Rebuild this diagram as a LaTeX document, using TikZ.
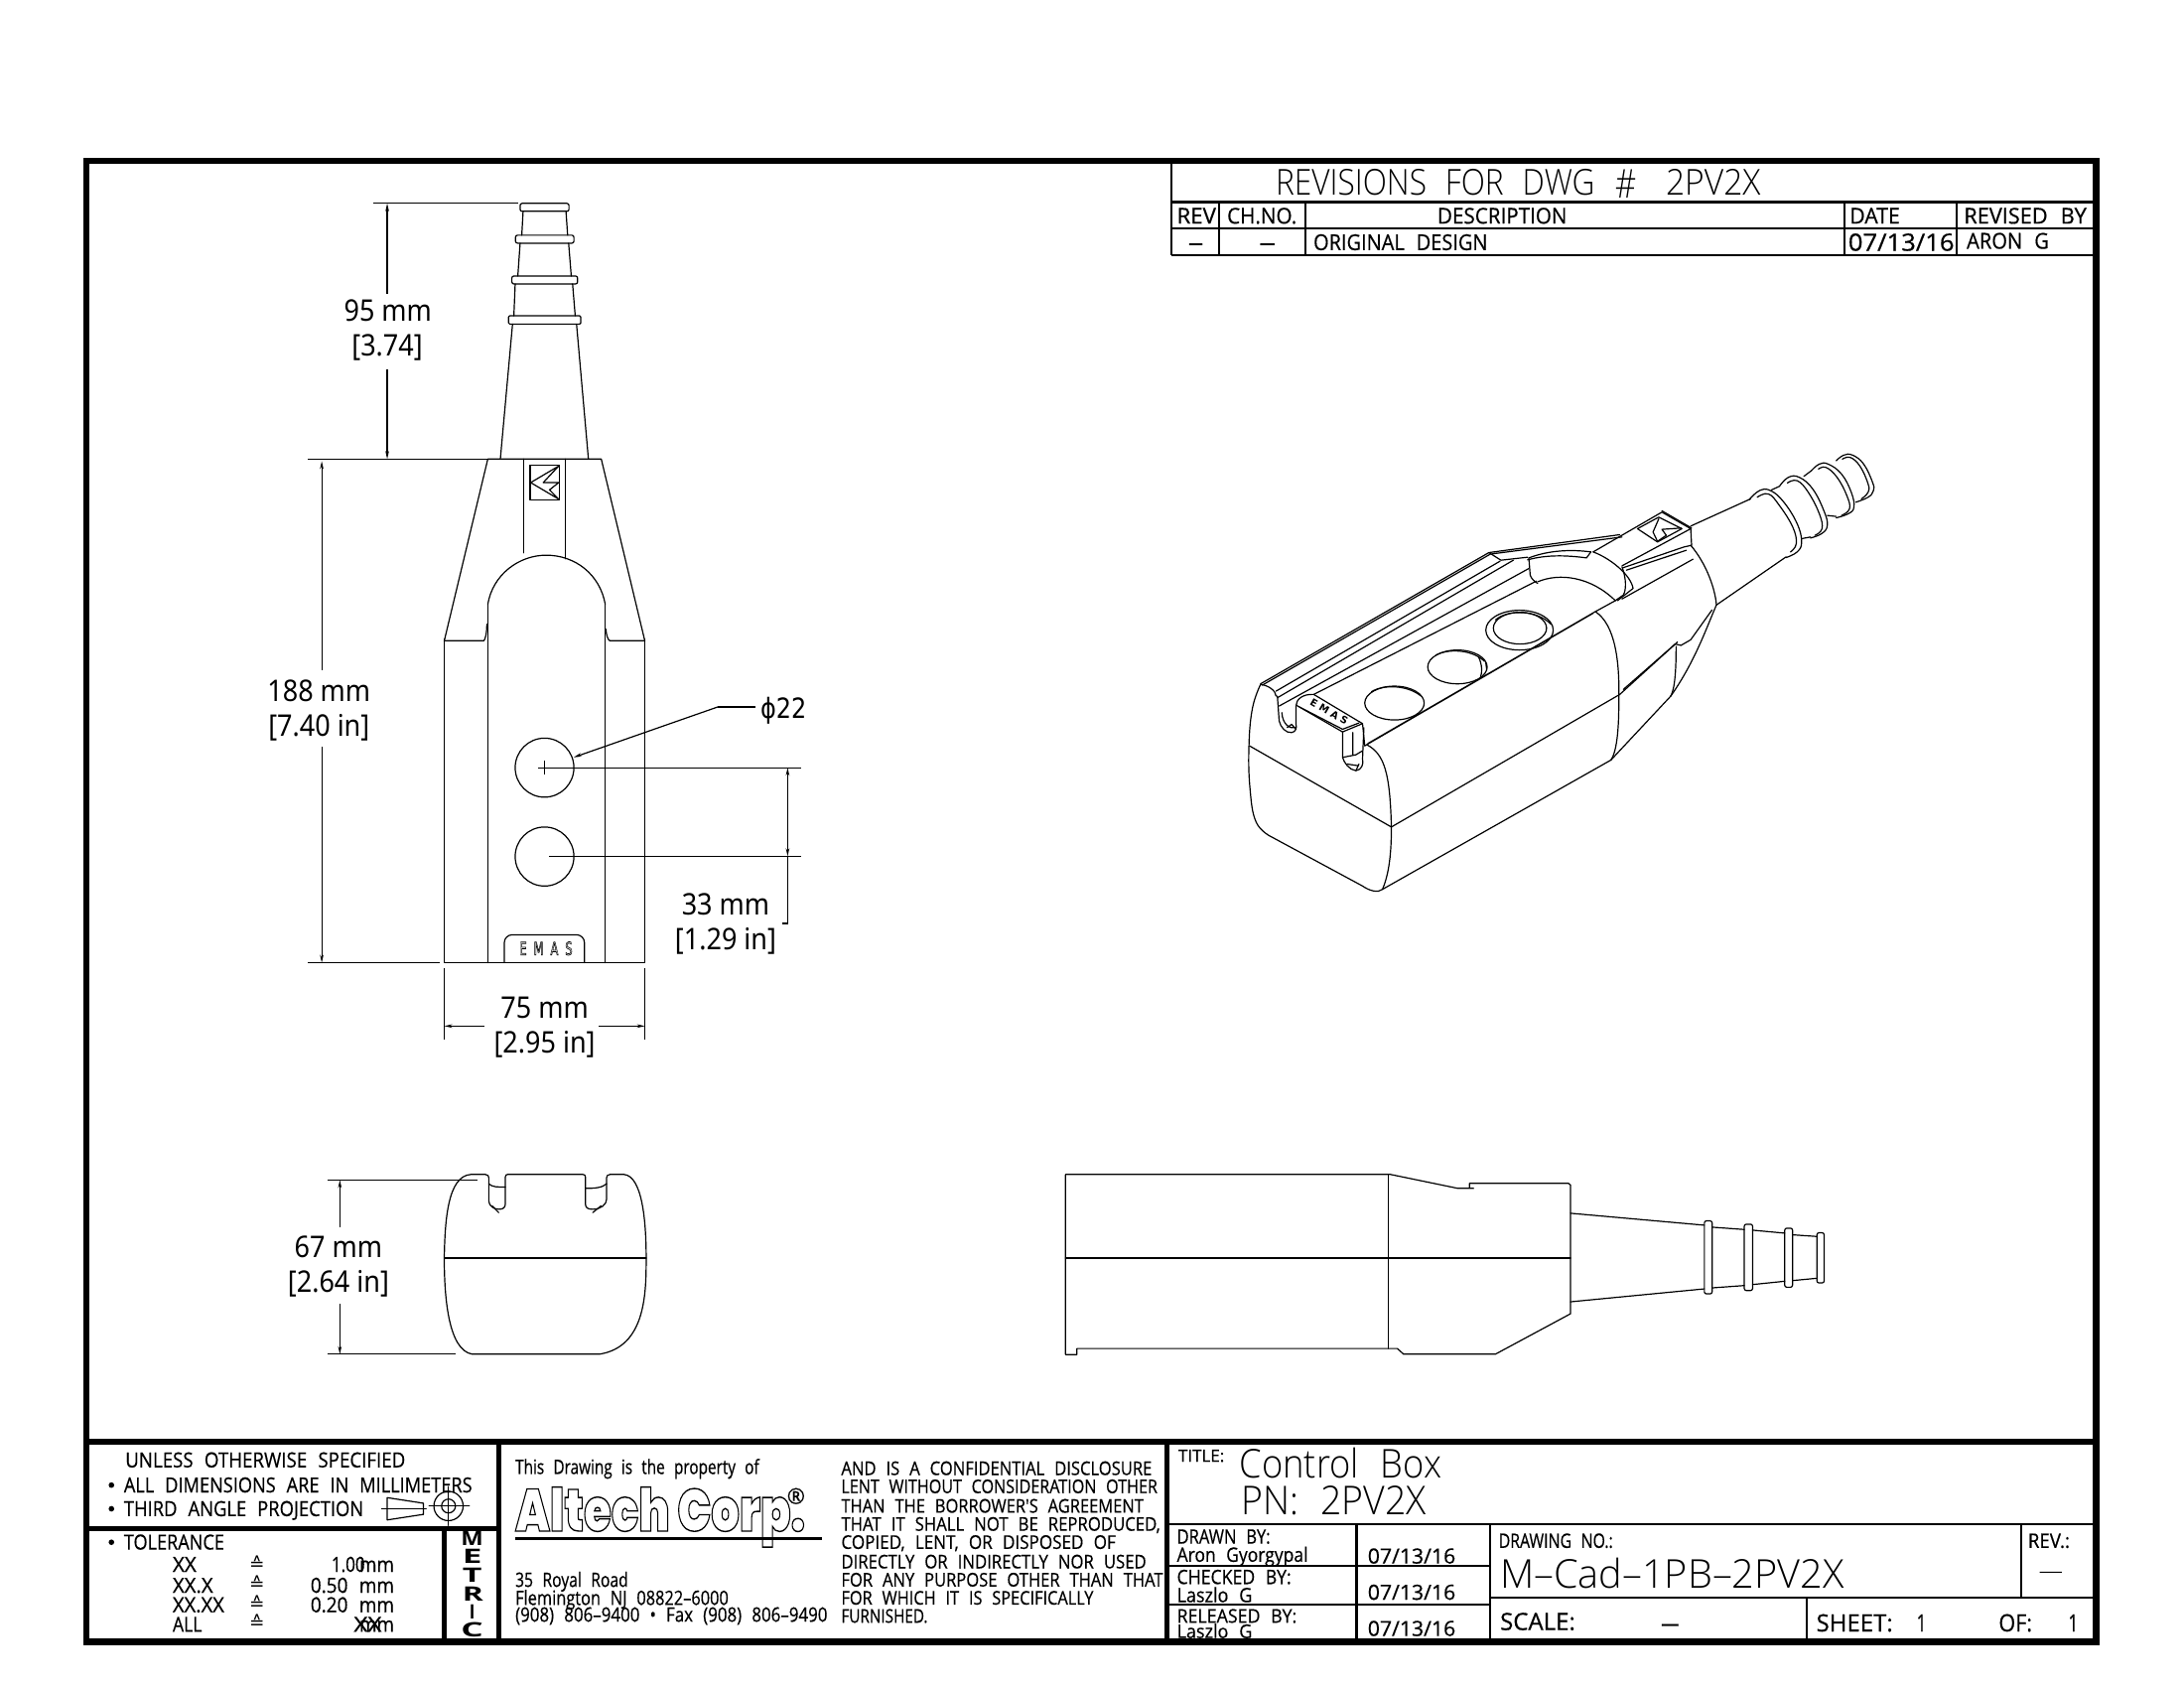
\documentclass[tikz,border=0pt]{standalone}
\usepackage{fontspec}
\usepackage{graphicx}
\usetikzlibrary{arrows.meta}
\newfontfamily\cadfont{Open Sans}[FakeBold=0.5]
\newfontfamily\cadheavy{Open Sans}[UprightFont=* Bold]
\newfontfamily\cadlight{Open Sans}[UprightFont=* Light]
\newfontfamily\dimfont{Noto Sans}
\newfontfamily\dvfont{DejaVu Sans}
\newfontfamily\logofont{Poppins}[UprightFont=* Black]
\newsavebox\cadbox
\newcount\cadn
\newcommand{\cadt}[6][\cadfont]{%
  \global\advance\cadn by 1
  \pgfinterruptpicture\global\setbox\cadbox\hbox{#1\fontsize{#5}{#5}\selectfont\spaceskip=.6em\relax #6}\endpgfinterruptpicture
  \pgfmathsetmacro\cadsx{(#3-#2)*0.70153/\the\wd\cadbox}%
  \node[cadlabel] (cad\the\cadn) at (#2,#4+#5/2) {\scalebox{\cadsx}[1]{\usebox\cadbox}};}
\newcommand{\dimlabel}[3]{%
  \global\advance\cadn by 1
  \node[dimlabelstyle] (cad\the\cadn) at (#1,#2+7.6) {\scalebox{.9}[1]{#3}};}
\newcommand{\outlined}[2]{\special{pdf:code 1 Tr #1 w}#2\special{pdf:code 0 Tr}}
\tikzset{
  cadlabel/.style={anchor=base west,inner sep=0pt,outer sep=0pt},
  dimlabelstyle/.style={anchor=base,inner sep=0pt,font=\dimfont\fontsize{15}{15}\selectfont},
  cadline/.style={line width=.6pt,line cap=round,line join=round},
  frameline/.style={line width=3.2pt,line cap=rect},
  heavyline/.style={line width=2.6pt},
  cellline/.style={line width=1.1pt},
  dimline/.style={line width=.6pt},
  dimarrow/.style={line width=.6pt,{Stealth[length=4pt,width=1.8pt]}-{Stealth[length=4pt,width=1.8pt]}},
  isoview/.style={shift={(882.7,312.9)},xscale=.3184,yscale=.2379},
  sideview/.style={shift={(756.4,833.5)},xscale=.3723,yscale=.238},
  endview/.style={shift={(300,833.5)},xscale=.2369,yscale=.238},
  fronttop/.style={shift={(285.1,127.9)},xscale=.2368,yscale=.238},
  frontlow/.style={shift={(285.1,455.1)},xscale=.2368,yscale=.238},
}
\begin{document}
\begin{tikzpicture}[x=0.70153pt,y=-0.70153pt]
\useasboundingbox (0,0) rectangle (1568,1211.6);
\fill[white] (0,0) rectangle (1568,1211.6);

% ---------- front view
\begin{scope}[fronttop]
\draw[cadline,rounded corners=1pt] (373,76) rectangle (521,100);
\draw[cadline,rounded corners=1pt] (359,172) rectangle (536,196);
\draw[cadline,rounded corners=1pt] (348,295) rectangle (547,319);
\draw[cadline,rounded corners=.6pt] (338,415) rectangle (557,440);
\draw[cadline] (382,100)--(378,172) (373,196)--(366,295) (358,319)--(354,415) (350,440)--(313,847);
\draw[cadline] (512,100)--(517,172) (520,196)--(528,295) (532,319)--(540,415) (544,440)--(580,847);
\draw[cadline] (143,1395)--(275,847)--(619,847)--(751,1395);
\draw[cadline] (143,1395)--(263,1395)..controls (268,1390) and (272,1370)..(272,1345);
\draw[cadline] (751,1395)--(645,1395)..controls (638,1392) and (634,1375)..(633,1360);
\draw[cadline] (383,847)--(383,1130) (511,847)--(511,1148);
\draw[cadline] (275,1285)..controls (290,1195) and (370,1137)..(452,1137)..controls (540,1137) and (615,1195)..(631,1285);
\draw[cadline] (403,865) rectangle (491,970);
\draw[cadline] (490,868)--(405,918)--(490,968) (490,868)--(443,918)--(490,918)--(462,940)--(490,968);
\end{scope}
\begin{scope}[frontlow]
\draw[cadline] (143,15)--(143,991)--(751,991)--(751,15);
\draw[cadline] (275,-90)--(275,991) (631,-90)--(631,991);
\draw[cadline] (447,403) ellipse [x radius=89,y radius=89];
\draw[cadline] (447,671) ellipse [x radius=89,y radius=89];
\draw[dimline] (427,403)--(1224,403) (447,383)--(447,423) (460,670)--(1224,670);
\draw[dimline,-{Stealth[length=4pt,width=1.8pt]}] (972,220)--(535,372);
\draw[dimline] (972,220)--(1085,220);
\draw[dimarrow] (1184,403)--(1184,670);
\draw[dimline] (1184,670)--(1184,873)--(1168,873);
\draw[cadline,rounded corners=4pt] (325,991)--(325,907)--(568,907)--(568,991);
\end{scope}
\cadt[\dvfont]{373}{411}{681}{9}{\outlined{.35}{E M A S}}
\cadt[\dvfont]{546}{579}{509}{14}{ϕ22}

% dimensions, front view
\draw[dimline] (268,146)--(372,146);
\draw[dimline] (221,329.5)--(360,329.5);
\draw[dimline] (221,691)--(316,691);
\draw[dimline,{Stealth[length=4pt,width=1.8pt]}-] (278,146)--(278,211);
\draw[dimline,-{Stealth[length=4pt,width=1.8pt]}] (278,265)--(278,329.5);
\draw[dimline,{Stealth[length=4pt,width=1.8pt]}-] (231,331)--(231,481);
\draw[dimline,-{Stealth[length=4pt,width=1.8pt]}] (231,536)--(231,691);
\draw[dimline] (319,695)--(319,746) (463,695)--(463,746);
\draw[dimline,{Stealth[length=4pt,width=1.8pt]}-] (319,736.5)--(348,736.5);
\draw[dimline,-{Stealth[length=4pt,width=1.8pt]}] (430,736.5)--(463,736.5);
\dimlabel{278.5}{223}{95 mm}
\dimlabel{278}{248}{[3.74]}
\dimlabel{229}{496}{188 mm}
\dimlabel{229}{521}{[7.40 in]}
\dimlabel{521}{649}{33 mm}
\dimlabel{521}{674}{[1.29 in]}
\dimlabel{391}{723}{75 mm}
\dimlabel{391}{748}{[2.95 in]}

% ---------- end view
\begin{scope}[endview]
\draw[cadline] (80,292)..controls (82,180) and (90,45)..(160,40)--(205,40)..controls (212,40) and (215,45)..(215,50)--(215,120)..controls (215,135) and (232,145)..(245,145)..controls (258,145) and (265,140)..(265,130)--(265,48)..controls (265,42) and (268,40)..(272,40)--(500,40)..controls (505,40) and (508,42)..(508,48)--(508,130)..controls (508,140) and (515,145)..(530,145)..controls (555,145) and (572,130)..(572,115)--(572,50)..controls (572,45) and (575,40)..(582,40)--(625,40)..controls (680,45) and (692,180)..(692,292)..controls (692,400) and (690,560)..(550,582)--(165,582)..controls (90,570) and (80,400)..(80,292)--cycle;
\draw[cadline] (80,292)--(692,292);
\draw[cadline] (215,68)..controls (225,78) and (240,78)..(265,78);
\draw[cadline] (508,82)..controls (535,82) and (560,80)..(572,68);
\draw[cadline] (225,135)--(245,155) (530,155)--(555,135);
\draw[cadline] (312,38)--(465,38);
\end{scope}
\draw[dimline] (235,847)--(343,847) (235,972)--(327,972);
\draw[dimline,{Stealth[length=4pt,width=1.8pt]}-] (244,847)--(244,881);
\draw[dimline,-{Stealth[length=4pt,width=1.8pt]}] (244,936)--(244,972);
\dimlabel{243}{895}{67 mm}
\dimlabel{243}{920}{[2.64 in]}

% ---------- side view
\begin{scope}[sideview]
\draw[cadline] (810,82)--(780,82)--(650,40)--(23,40)--(23,583)--(45,583)--(45,565)--(663,565)--(675,582)--(852,582)--(997,460)--(997,72)--(993,67)--(802,67)--(802,82);
\draw[cadline] (645,40)--(645,565) (23,292)--(997,292) (43,38)--(65,38);
\draw[cadline] (997,157)--(1255,193) (1270,199)--(1332,206) (1348,208)--(1410,217) (1425,222)--(1472,227);
\draw[cadline] (997,424)--(1255,385) (1270,382)--(1332,375) (1348,372)--(1410,362) (1425,360)--(1472,353);
\draw[cadline,rounded corners=1pt] (1255,180) rectangle (1270,400);
\draw[cadline,rounded corners=1pt] (1332,190) rectangle (1348,390);
\draw[cadline,rounded corners=1pt] (1410,202) rectangle (1425,380);
\draw[cadline,rounded corners=1pt] (1472,216) rectangle (1486,367);
\end{scope}

% ---------- isometric view
\begin{scope}[isoview]
\draw[cadline] plot[smooth,tension=.7] coordinates {(70,750)(52,820)(44,930)(46,1060)(60,1165)(95,1210)};
\draw[cadline] (95,1210)--(300,1358)..controls (315,1372) and (335,1380)..(345,1368)--(860,978);
\draw[cadline] (45,935)--(365,1180)--(880,780);
\draw[cadline] (310,932)..controls (350,960) and (362,1020)..(365,1180)..controls (365,1260) and (360,1320)..(345,1368);
\draw[cadline] (825,530)..controls (870,570) and (880,680)..(878,800)..controls (878,870) and (875,950)..(860,978);
\draw[cadline] (305,935)--(820,535) (312,928)--(825,530)--(870,497);
\draw[cadline] (885,492)--(1045,372);
\draw[cadline] (1040,330)..controls (1075,385) and (1095,460)..(1098,510);
\draw[cadline] (1098,510)--(1255,365) (1040,272)--(1175,190);
\draw[cadline] (860,978)--(995,785);
\draw[cadline] (995,785)..controls (1005,760) and (1007,700)..(1007,635);
\draw[cadline] (995,785)..controls (1050,680) and (1075,580)..(1098,510);
\draw[cadline] (880,780)--(1010,622);
\draw[cadline] (888,765)--(1005,628)--(1018,632)--(1040,615)--(1088,525);
% top edges
\draw[cadline] (70,748)--(585,352) (74,752)--(589,356);
\draw[cadline] (70,750)..controls (88,752) and (105,770)..(105,785);
\draw[cadline] (105,770)--(610,378) (108,790)--(640,375) (112,815)--(675,400) (190,780)--(692,438);
\draw[cadline] (585,352)--(880,298) (592,356)--(885,305);
\draw[cadline] (585,352)--(612,375)--(672,366);
% recess
\draw[cadline] (675,368)..controls (720,345) and (770,342)..(815,350);
\draw[cadline] (672,374)..controls (715,358) and (760,360)..(805,368)--(815,350);
\draw[cadline] (675,368)--(678,420)..controls (680,430) and (688,440)..(695,445);
\draw[cadline] (695,440)..controls (745,412) and (815,425)..(870,497);
\draw[cadline] (820,350)..controls (860,370) and (905,420)..(910,460)--(875,497);
\draw[cadline] (885,395)..controls (895,430) and (895,465)..(888,480)--(870,497);
% logo block
\draw[cadline] (820,350)--(975,230)--(1040,280)--(885,392);
\draw[cadline] (975,226)--(1042,278);
\draw[cadline] (1040,280)--(1042,330)--(1025,335)--(887,398);
\draw[cadline] (1030,345)--(895,405);
\draw[cadline] (920,280)--(968,245)--(1020,280)--(965,320)--cycle;
\draw[cadline] (1018,278)--(975,282)--(985,300)--(965,318) (968,250)--(955,290)--(965,318);
% holes
\draw[cadline] (372,806) ellipse [x radius=67,y radius=51];
\draw[cadline] (320,772)..controls (345,750) and (400,750)..(432,785);
\draw[cadline] (514,697) ellipse [x radius=67,y radius=51];
\draw[cadline] (465,662)..controls (490,642) and (545,642)..(575,680);
\draw[cadline] (562,668)..controls (570,690) and (570,715)..(566,728) (578,685)--(580,705);
\draw[cadline] (654,586) ellipse [x radius=76,y radius=60];
\draw[cadline] (655,580) ellipse [x radius=60,y radius=48];
\draw[cadline] (600,555)..controls (625,525) and (690,522)..(725,568);
% left notch and plate
\draw[cadline] (108,785)--(112,860)..controls (115,880) and (128,897)..(140,895)..controls (150,893) and (152,880)..(150,870)--(150,815)..controls (150,795) and (165,778)..(190,780);
\draw[cadline] (118,835)..controls (120,870) and (135,885)..(150,880) (130,880)--(140,870)--(150,885);
\draw[cadline] (150,812)--(255,893)--(300,868)--(190,780);
\draw[cadline] (158,818)--(255,885)--(292,866);
\draw[cadline] (300,868)--(305,935);
% right notch
\draw[cadline] (255,893)--(255,970)..controls (258,985) and (270,1008)..(285,1010)..controls (298,1008) and (303,990)..(300,975)--(303,880);
\draw[cadline] (255,970)--(285,962)--(300,950) (278,895)--(278,962);
\draw[cadline] (265,990)--(290,995) (285,1010)--(292,990);
% collars
\draw[cadline] plot[smooth,tension=.7] coordinates {(1172,192)(1195,165)(1220,165)(1250,200)(1280,265)(1290,320)(1280,350)(1255,367)};
\draw[cadline] plot[smooth,tension=.7] coordinates {(1190,185)(1215,175)(1240,210)(1270,275)(1278,325)(1265,350)};
\draw[cadline] plot[smooth,tension=.7] coordinates {(1240,152)(1260,125)(1285,125)(1315,160)(1340,225)(1348,270)(1335,295)(1310,308)};
\draw[cadline] plot[smooth,tension=.7] coordinates {(1258,142)(1280,135)(1305,170)(1330,235)(1336,280)(1320,300)};
\draw[cadline] plot[smooth,tension=.7] coordinates {(1312,105)(1330,85)(1350,85)(1380,115)(1402,170)(1408,215)(1395,235)(1368,247)};
\draw[cadline] plot[smooth,tension=.7] coordinates {(1328,100)(1345,95)(1370,125)(1392,180)(1398,220)(1380,240)};
\draw[cadline] plot[smooth,tension=.7] coordinates {(1368,75)(1385,58)(1405,58)(1430,85)(1450,140)(1452,165)(1440,185)(1412,200)};
\draw[cadline] plot[smooth,tension=.7] coordinates {(1382,70)(1400,65)(1422,92)(1440,145)(1440,170)(1425,190)};
\draw[cadline] (1222,163)--(1240,152) (1290,310)--(1310,305) (1295,122)--(1312,105) (1348,240)--(1368,243);
\global\advance\cadn by 1
\node[inner sep=0pt,rotate=-30] (cad\the\cadn) at (225,832) {\dvfont\bfseries\fontsize{5}{5}\selectfont E M A S};
\end{scope}

% ---------- frame
\draw[frameline] (62,115.5) rectangle (1505,1178.5);
\draw[frameline] (62,1035)--(1505,1035);
\draw[heavyline] (358,1035)--(358,1178) (838,1035)--(838,1178) (62,1097)--(358,1097) (319,1097)--(319,1178);

% ---------- revisions table
\draw[cellline] (841,116)--(841,183) (841,145)--(1504,145) (841,164)--(1504,164) (841,183)--(1504,183);
\draw[cellline] (875,145)--(875,183) (937,145)--(937,183) (1324,145)--(1324,183) (1405,145)--(1405,183);
\cadt[\cadlight]{916}{1145}{131}{18}{REVISIONS FOR DWG}
\cadt[\cadlight]{1160}{1175}{132}{20}{\#}
\cadt[\cadlight]{1196}{1264}{131}{18}{2PV2X}
\cadt{845}{873}{155}{11}{REV}
\cadt{881}{931}{155}{11}{CH.NO.}
\cadt{1032}{1125}{155}{11}{DESCRIPTION}
\cadt{1328}{1364}{155}{11}{DATE}
\cadt{1410}{1498}{155}{11}{REVISED BY}
\cadt{853}{864}{174}{11}{–}
\cadt{904}{916}{174}{11}{–}
\cadt{943}{1068}{174}{11}{ORIGINAL DESIGN}
\cadt{1327}{1403}{174}{12}{07/13/16}
\cadt{1412}{1471}{173}{11}{ARON G}

% ---------- left block
\cadt{90}{291}{1048}{10.5}{UNLESS OTHERWISE SPECIFIED}
\cadt{89}{339}{1066}{10.5}{ALL DIMENSIONS ARE IN MILLIMETERS}
\cadt{89}{261}{1083}{10.5}{THIRD ANGLE PROJECTION}
\cadt{89}{161}{1107}{10.5}{TOLERANCE}
\fill (80,1066) circle [radius=2] (80,1083) circle [radius=2] (80,1107) circle [radius=2];
\draw[cadline] (278,1075)--(304,1079)--(304,1087)--(278,1091)--cycle;
\draw[cadline] (274,1083)--(306,1083) (308,1081)--(337,1081) (322,1067)--(322,1095);
\draw[cadline] (322,1081) circle [radius=10.5];
\draw[cadline] (322,1081) circle [radius=5];
\cadt{124}{141}{1123}{10.5}{XX}
\cadt{124}{153}{1138}{10.5}{XX.X}
\cadt{124}{161}{1152}{10.5}{XX.XX}
\cadt{124}{145}{1166}{10.5}{ALL}
\cadt[\dvfont]{179}{190}{1123}{9}{≙}
\cadt[\dvfont]{179}{190}{1137}{9}{≙}
\cadt[\dvfont]{179}{190}{1151}{9}{≙}
\cadt[\dvfont]{179}{190}{1165}{9}{≙}
\cadt{238}{262}{1123}{10.5}{1.00}
\cadt{258}{283}{1123}{10.5}{mm}
\cadt{223}{283}{1138}{10.5}{0.50 mm}
\cadt{223}{283}{1152}{10.5}{0.20 mm}
\cadt{258}{283}{1166}{10.5}{mm}
\cadt{254}{274}{1166}{10.5}{XX}
\foreach \lt/\yy/\xa/\xb in {M/1104/331/347,E/1117/332/346,T/1131/332/346,R/1144/332/347,I/1157/337/341,C/1170/331/347}{
  \cadt[\cadheavy]{\xa}{\xb}{\yy}{10}{\lt}
}

% ---------- middle block
\cadt{370}{545}{1053}{10}{This Drawing is the property of}
\global\advance\cadn by 1
\pgfinterruptpicture\global\setbox\cadbox\hbox{\logofont\fontsize{30}{30}\selectfont\outlined{.7}{Altech Corp.}}\endpgfinterruptpicture
\pgfmathsetmacro\cadsx{208*0.70153/\the\wd\cadbox}
\node[cadlabel] (cad\the\cadn) at (370,1099) {\scalebox{\cadsx}[1]{\usebox\cadbox}};
\draw[line width=1.4pt] (370,1104.5)--(590,1104.5);
\cadt{565}{578}{1074}{11}{®}
\cadt{370}{451}{1134}{10}{35 Royal Road}
\cadt{370}{523}{1147}{10}{Flemington NJ 08822–6000}
\cadt{370}{594}{1159}{10}{(908) 806–9400 • Fax (908) 806–9490}
\cadt{604}{827}{1054}{9.5}{AND IS A CONFIDENTIAL DISCLOSURE}
\cadt{604}{831}{1067}{9.5}{LENT WITHOUT CONSIDERATION OTHER}
\cadt{604}{821}{1081}{9.5}{THAN THE BORROWER'S AGREEMENT}
\cadt{604}{833}{1094}{9.5}{THAT IT SHALL NOT BE REPRODUCED,}
\cadt{604}{801}{1107}{9.5}{COPIED, LENT, OR DISPOSED OF}
\cadt{604}{823}{1121}{9.5}{DIRECTLY OR INDIRECTLY NOR USED}
\cadt{604}{835}{1134}{9.5}{FOR ANY PURPOSE OTHER THAN THAT}
\cadt{604}{785}{1147}{9.5}{FOR WHICH IT IS SPECIFICALLY}
\cadt{604}{666}{1160}{9.5}{FURNISHED.}

% ---------- right block
\draw[cellline] (838,1094)--(1504,1094) (974,1094)--(974,1178) (1070,1094)--(1070,1178);
\draw[cellline] (838,1124)--(1070,1124) (838,1152)--(1070,1152) (1070,1147)--(1504,1147);
\draw[cellline] (1451,1094)--(1451,1147) (1297,1147)--(1297,1178);
\cadt{846}{879}{1045}{8.5}{TITLE:}
\cadt[\cadlight]{890}{1035}{1051}{20}{Control Box}
\cadt[\cadlight]{891}{1024}{1077}{20}{PN: 2PV2X}
\cadt{845}{912}{1103}{10}{DRAWN BY:}
\cadt{845}{939}{1116}{10}{Aron Gyorgypal}
\cadt{982}{1045}{1117}{10.5}{07/13/16}
\cadt{845}{927}{1132}{10}{CHECKED BY:}
\cadt{845}{899}{1145}{10}{Laszlo G}
\cadt{982}{1045}{1143}{10.5}{07/13/16}
\cadt{845}{931}{1160}{9.5}{RELEASED BY:}
\cadt{845}{899}{1171}{9.5}{Laszlo G}
\cadt{982}{1045}{1169}{10.5}{07/13/16}
\cadt{1076}{1158}{1106}{10}{DRAWING NO.:}
\cadt[\cadlight]{1077}{1324}{1130}{20}{M–Cad–1PB–2PV2X}
\cadt{1456}{1486}{1106}{10}{REV.:}
\cadt[\cadlight]{1463}{1482}{1127}{14}{–}
\cadt{1077}{1131}{1164}{12}{SCALE:}
\cadt{1192}{1206}{1165}{12}{–}
\cadt{1304}{1359}{1165}{12}{SHEET:}
\cadt{1376}{1383}{1165}{12}{1}
\cadt{1435}{1459}{1165}{12}{OF:}
\cadt{1485}{1492}{1165}{12}{1}
\end{tikzpicture}
\end{document}
